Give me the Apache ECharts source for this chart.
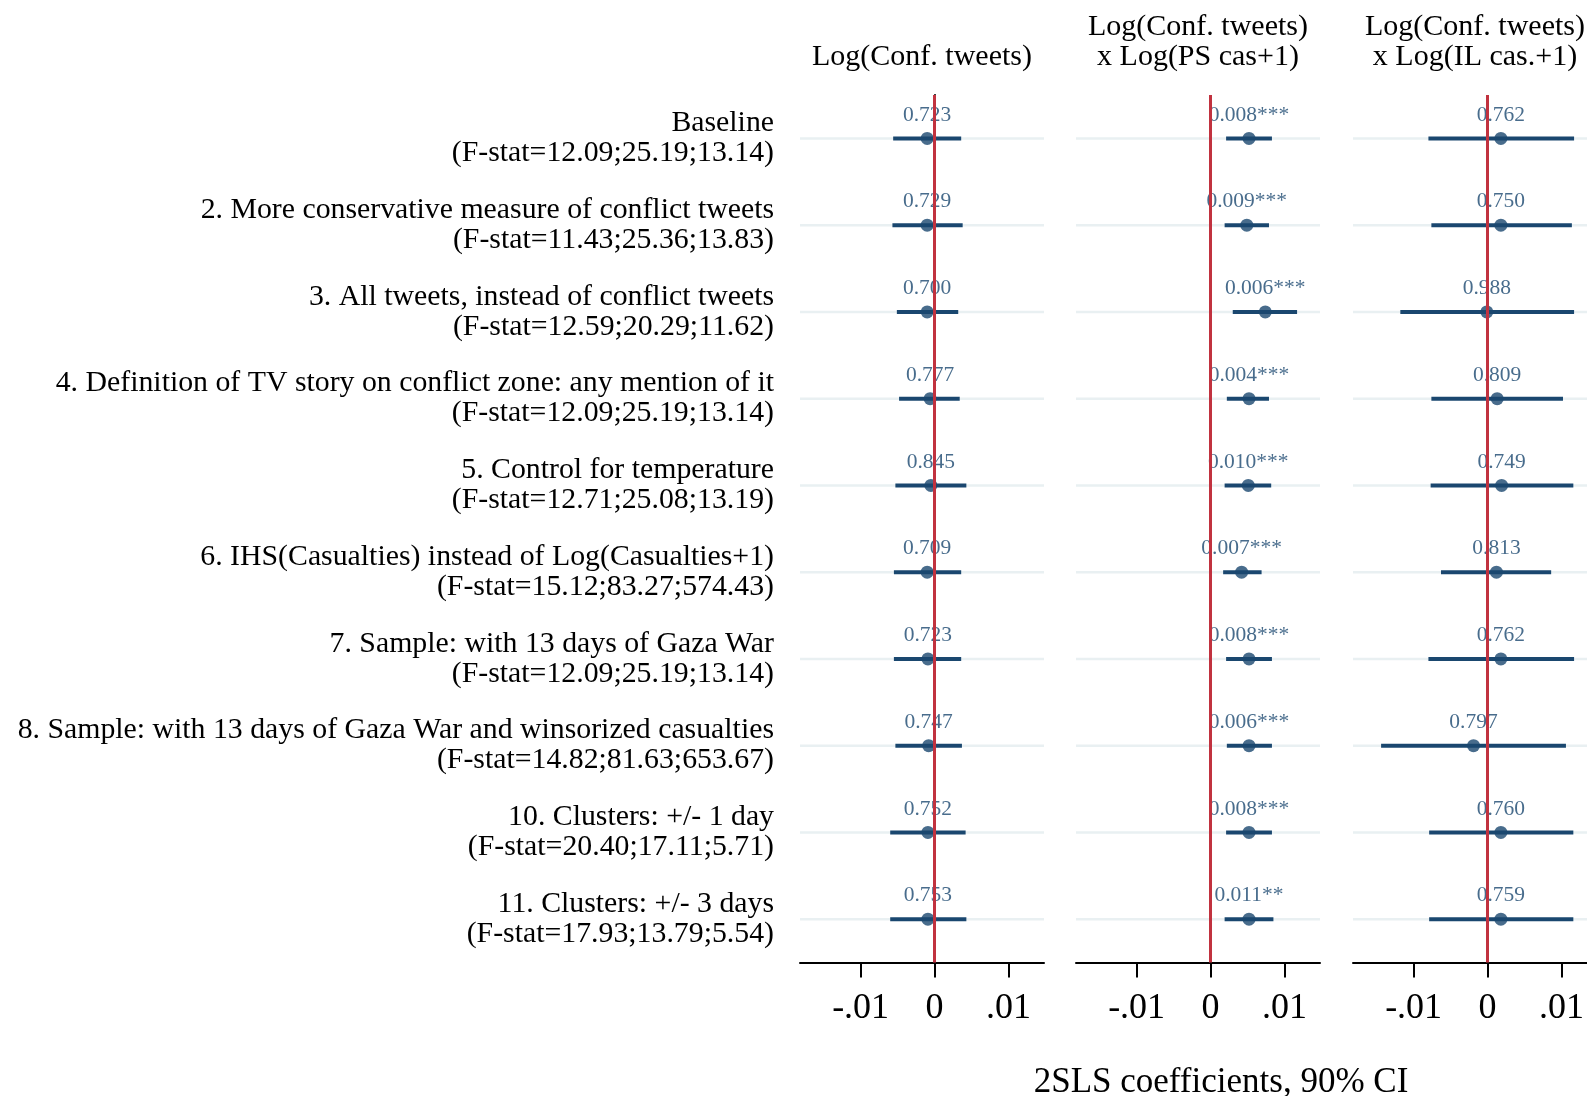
<!DOCTYPE html>
<html>
<head>
<meta charset="utf-8">
<script src="https://cdn.jsdelivr.net/npm/echarts@6/dist/echarts.min.js"></script>
<style>
  html, body { margin: 0; padding: 0; background: #fff; }
  #main { width: 1587px; height: 1096px; }
</style>
</head>
<body>
<div id="main"></div>
<script>
// row names and first-stage F statistics
const rowNames = [
  'Baseline',
  '2. More conservative measure of conflict tweets',
  '3. All tweets, instead of conflict tweets',
  '4. Definition of TV story on conflict zone: any mention of it',
  '5. Control for temperature',
  '6. IHS(Casualties) instead of Log(Casualties+1)',
  '7. Sample: with 13 days of Gaza War',
  '8. Sample: with 13 days of Gaza War and winsorized casualties',
  '10. Clusters: +/- 1 day',
  '11. Clusters: +/- 3 days'
];
const fStats = [
  '(F-stat=12.09;25.19;13.14)',
  '(F-stat=11.43;25.36;13.83)',
  '(F-stat=12.59;20.29;11.62)',
  '(F-stat=12.09;25.19;13.14)',
  '(F-stat=12.71;25.08;13.19)',
  '(F-stat=15.12;83.27;574.43)',
  '(F-stat=12.09;25.19;13.14)',
  '(F-stat=14.82;81.63;653.67)',
  '(F-stat=20.40;17.11;5.71)',
  '(F-stat=17.93;13.79;5.54)'
];

const headers = [
  'Log(Conf. tweets)',
  'Log(Conf. tweets)\nx Log(PS cas+1)',
  'Log(Conf. tweets)\nx Log(IL cas.+1)'
];

// panel 1: Log(Conf. tweets)
const p1Est = [-0.0010, -0.0010, -0.0010, -0.0006, -0.0005, -0.0010, -0.0009, -0.0008, -0.0009, -0.0009];
const p1Lo  = [-0.0056, -0.0057, -0.0051, -0.0048, -0.0053, -0.0055, -0.0055, -0.0053, -0.0060, -0.0060];
const p1Hi  = [0.0036, 0.0038, 0.0032, 0.0034, 0.0043, 0.0036, 0.0036, 0.0037, 0.0042, 0.0043];
const p1Lab = ['0.723', '0.729', '0.700', '0.777', '0.845', '0.709', '0.723', '0.747', '0.752', '0.753'];

// panel 2: x Log(PS cas+1)
const p2Est = [0.0052, 0.0049, 0.0074, 0.0052, 0.0051, 0.0042, 0.0052, 0.0052, 0.0052, 0.0052];
const p2Lo  = [0.0021, 0.0019, 0.0030, 0.0022, 0.0019, 0.0017, 0.0021, 0.0022, 0.0021, 0.0019];
const p2Hi  = [0.0083, 0.0079, 0.0117, 0.0079, 0.0082, 0.0069, 0.0083, 0.0083, 0.0083, 0.0085];
const p2Lab = ['0.008***', '0.009***', '0.006***', '0.004***', '0.010***', '0.007***', '0.008***', '0.006***', '0.008***', '0.011**'];

// panel 3: x Log(IL cas.+1)
const p3Est = [0.0018, 0.0018, -0.0001, 0.0013, 0.0019, 0.0012, 0.0018, -0.0019, 0.0018, 0.0018];
const p3Lo  = [-0.0080, -0.0076, -0.0118, -0.0076, -0.0077, -0.0063, -0.0080, -0.0144, -0.0079, -0.0079];
const p3Hi  = [0.0117, 0.0114, 0.0117, 0.0102, 0.0116, 0.0086, 0.0117, 0.0106, 0.0116, 0.0116];
const p3Lab = ['0.762', '0.750', '0.988', '0.809', '0.749', '0.813', '0.762', '0.797', '0.760', '0.759'];

const tickValues = [-0.01, 0, 0.01];
const tickLabels = ['-.01', '0', '.01'];

const xMin = -0.0182;
const xMax = 0.0148;

const NAVY = '#1a476f';
const RED = '#c1323f';
const GRIDC = '#e9f0f2';
const FONT = '"Liberation Serif", "Times New Roman", serif';

const chart = echarts.init(document.getElementById('main'));

const rowLabels = rowNames.map((n, i) => n + '\n' + fStats[i]);
const panels = [
  { est: p1Est, lo: p1Lo, hi: p1Hi, lab: p1Lab },
  { est: p2Est, lo: p2Lo, hi: p2Hi, lab: p2Lab },
  { est: p3Est, lo: p3Lo, hi: p3Hi, lab: p3Lab }
];
const gridLefts = [800, 1076, 1353];
const gridW = 244;

function gridLines(params, api) {
  const cs = params.coordSys;
  const y = api.coord([0, api.value(0)])[1];
  return {
    type: 'line',
    shape: { x1: cs.x, y1: y, x2: cs.x + cs.width, y2: y },
    style: { stroke: GRIDC, lineWidth: 2.5 }
  };
}

function ciLine(params, api) {
  const a = api.coord([api.value(1), api.value(0)]);
  const b = api.coord([api.value(2), api.value(0)]);
  return {
    type: 'line',
    shape: { x1: a[0], y1: a[1], x2: b[0], y2: b[1] },
    style: { stroke: NAVY, lineWidth: 4 }
  };
}

const grid = [], xAxis = [], yAxis = [], series = [];
panels.forEach((p, k) => {
  grid.push({ left: gridLefts[k], top: 95, width: gridW, height: 867.5, outerBoundsMode: 'none', containLabel: false });
  xAxis.push({
    type: 'value', gridIndex: k, min: xMin, max: xMax,
    axisLine: { show: true, lineStyle: { color: '#000', width: 2 } },
    axisTick: { show: true, length: 15, lineStyle: { color: '#000', width: 2 }, customValues: tickValues },
    axisLabel: {
      show: true, customValues: tickValues, margin: 28,
      fontFamily: FONT, fontSize: 36, color: '#000',
      formatter: v => tickLabels[tickValues.findIndex(t => Math.abs(t - v) < 1e-9)]
    },
    splitLine: { show: false }
  });
  yAxis.push({
    type: 'category', gridIndex: k, inverse: true, data: rowLabels,
    axisLine: { show: k === 0, lineStyle: { color: '#000', width: 2 } },
    axisTick: { show: k === 0, alignWithLabel: true, length: 13, lineStyle: { color: '#000', width: 2 } },
    axisLabel: {
      show: k === 0, margin: 26, align: 'right',
      fontFamily: FONT, fontSize: 29.8, lineHeight: 30, color: '#000',
      padding: [8, 0, 0, 0]
    },
    splitLine: { show: false }
  });
  series.push({
    type: 'custom', xAxisIndex: k, yAxisIndex: k, z: 1, silent: true,
    renderItem: gridLines,
    data: p.est.map((e, i) => [i]),
    encode: { y: 0 }
  });
  series.push({
    type: 'custom', xAxisIndex: k, yAxisIndex: k, z: 3, silent: true,
    renderItem: ciLine,
    data: p.est.map((e, i) => [i, p.lo[i], p.hi[i]]),
    encode: { y: 0, x: [1, 2] }
  });
  series.push({
    type: 'scatter', xAxisIndex: k, yAxisIndex: k, z: 4, silent: true,
    symbol: 'circle', symbolSize: 13,
    itemStyle: { color: NAVY },
    label: {
      show: true, position: 'top', distance: 6,
      fontFamily: FONT, fontSize: 21.5, color: NAVY,
      formatter: d => p.lab[d.dataIndex]
    },
    data: p.est.map((e, i) => [e, i])
  });
  series.push({
    type: 'line', xAxisIndex: k, yAxisIndex: k, z: 6, silent: true,
    data: [],
    markLine: {
      silent: true, symbol: ['none', 'none'], animation: false,
      label: { show: false },
      lineStyle: { color: RED, width: 3, type: 'solid' },
      data: [{ xAxis: 0 }]
    }
  });
});

const graphic = headers.map((h, k) => ({
  type: 'text',
  x: gridLefts[k] + gridW / 2,
  y: k === 0 ? 57 : 42,
  style: {
    text: h, align: 'center', verticalAlign: 'middle',
    font: '30px ' + FONT, lineHeight: 30, fill: '#000'
  }
}));
graphic.push({
  type: 'text', x: 1221, y: 1083,
  style: {
    text: '2SLS coefficients, 90% CI', align: 'center', verticalAlign: 'middle',
    font: '35px ' + FONT, fill: '#000'
  }
});

chart.setOption({
  backgroundColor: '#fff',
  animation: false,
  grid: grid,
  xAxis: xAxis,
  yAxis: yAxis,
  series: series,
  graphic: graphic
});
</script>
</body>
</html>
